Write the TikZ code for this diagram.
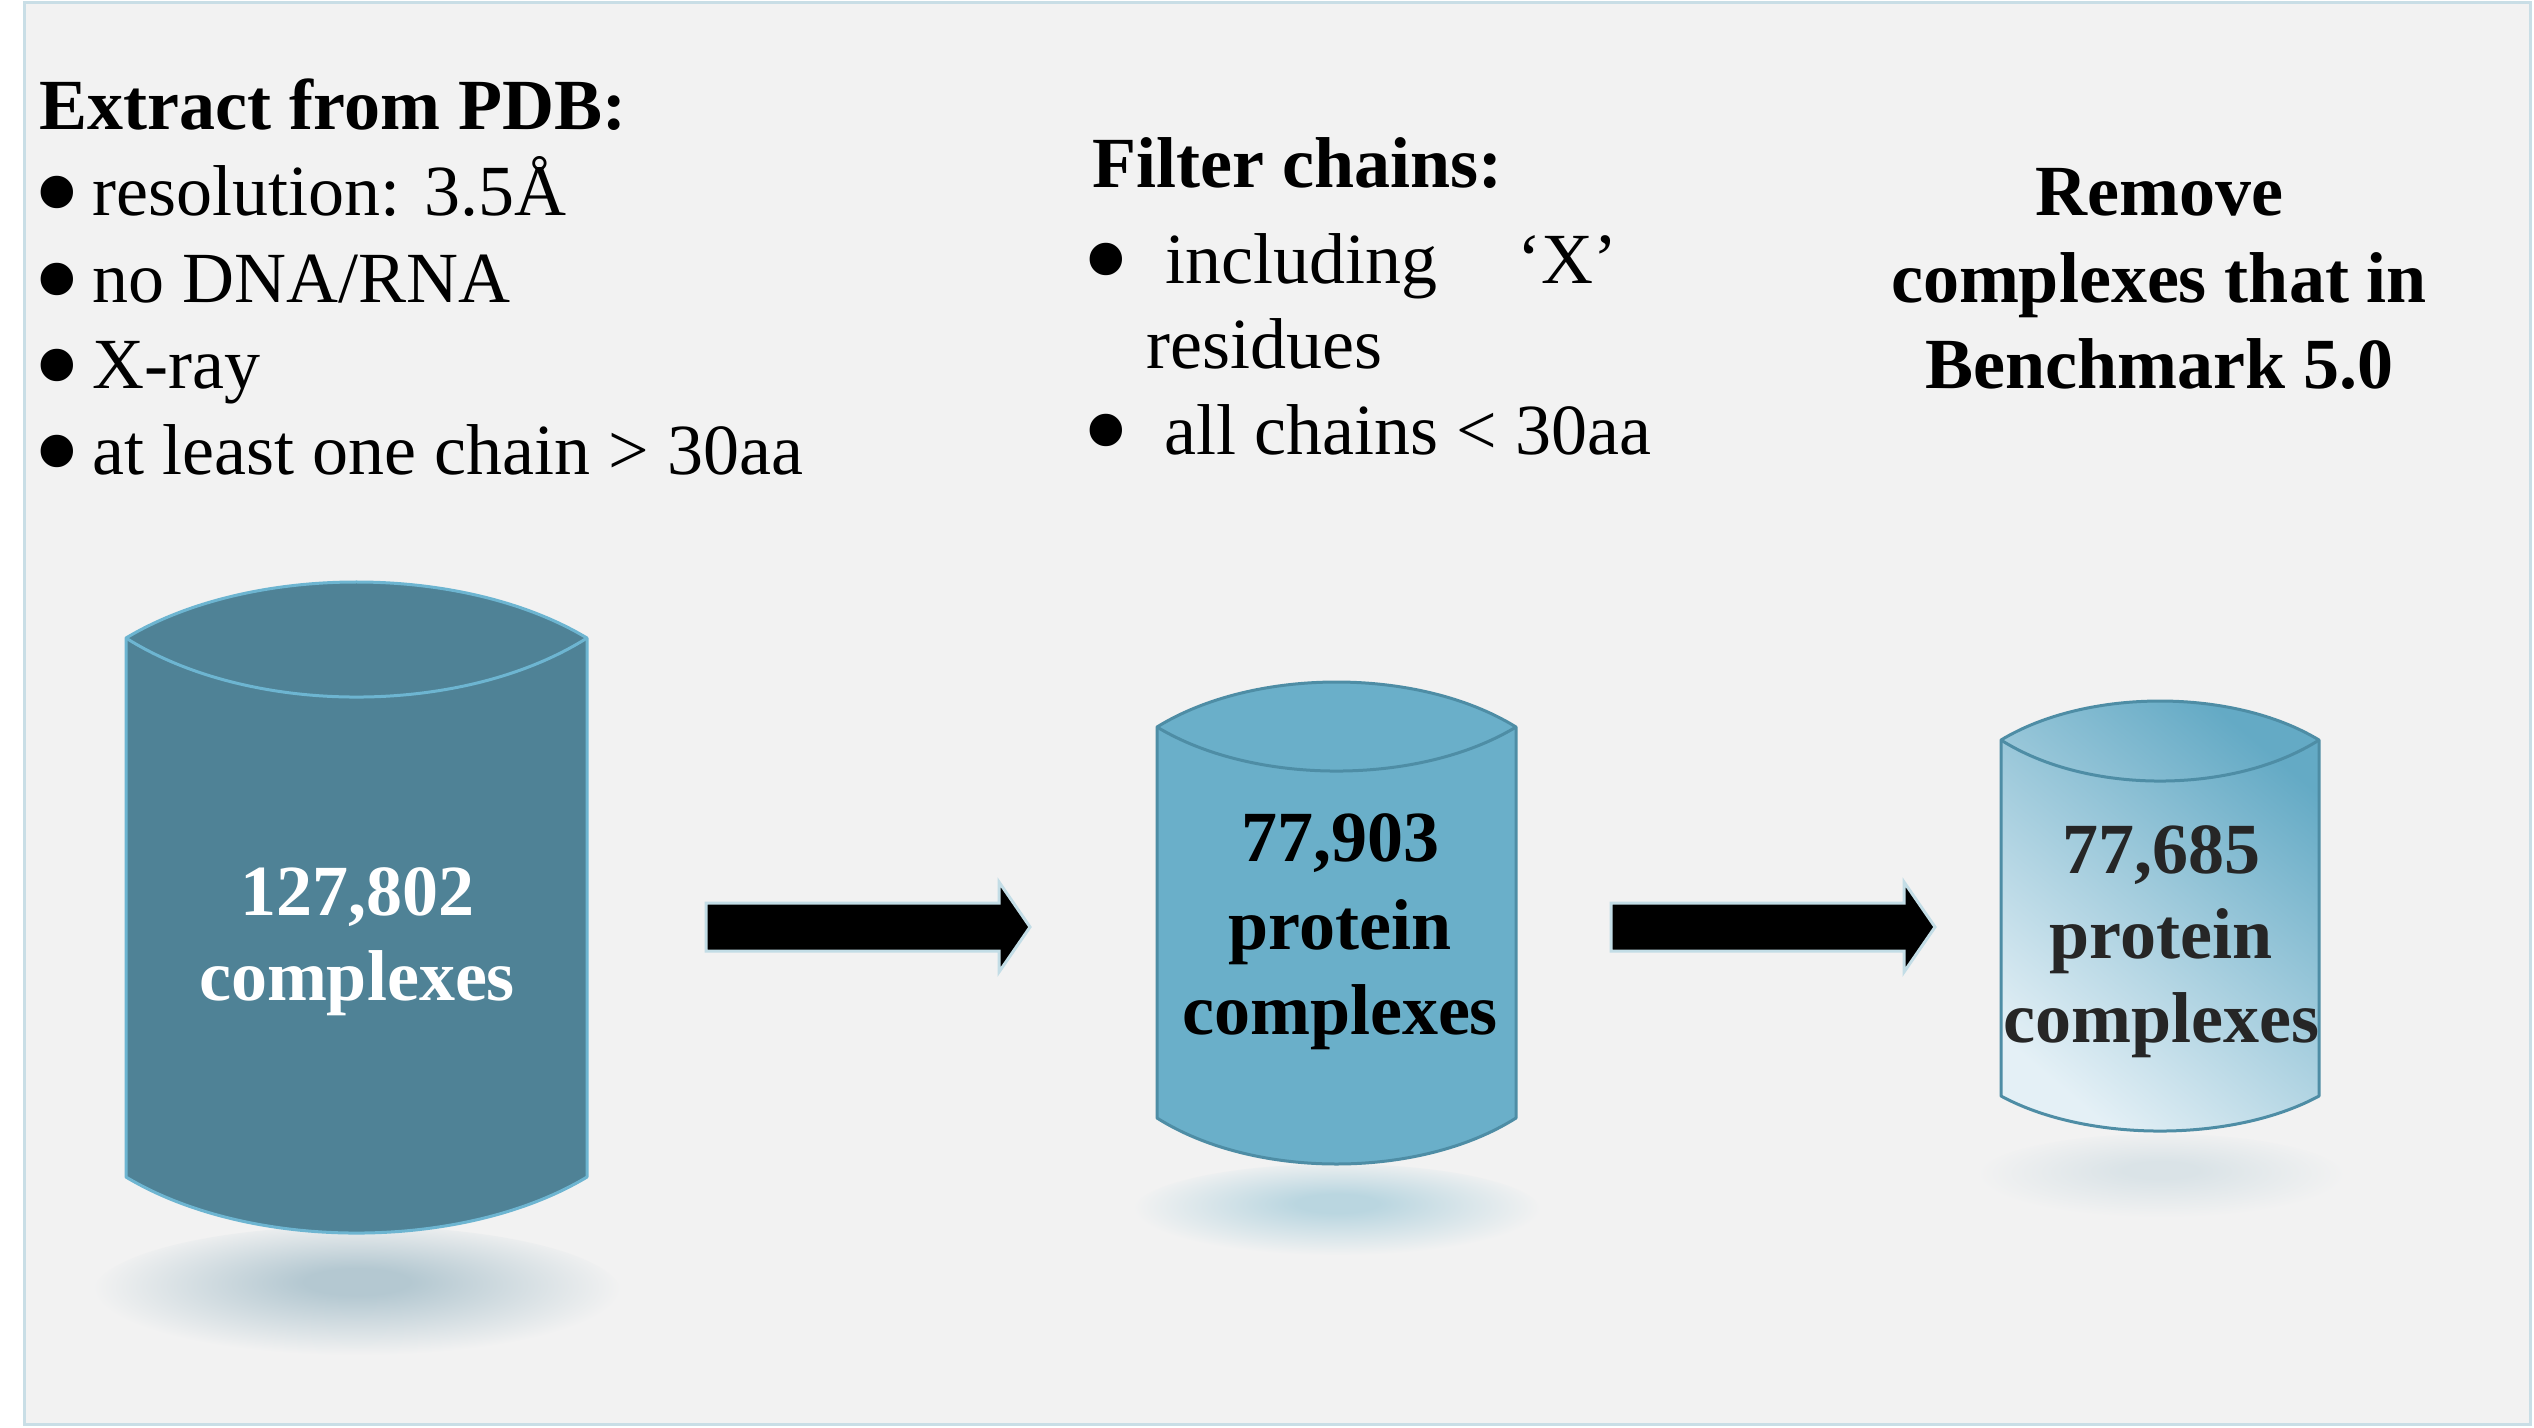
\documentclass[tikz,border=0pt]{standalone}
\usepackage{fontspec}
\setmainfont{Liberation Serif}
\definecolor{bgc}{HTML}{F2F2F2}
\definecolor{framec}{HTML}{C9DEE6}
\definecolor{cylA}{HTML}{4F8296}
\definecolor{cylAline}{HTML}{6DB5D1}
\definecolor{cylB}{HTML}{6AAFC9}
\definecolor{cylBline}{HTML}{4E8DA5}
\definecolor{cylCdark}{HTML}{64AAC5}
\definecolor{cylCmid}{HTML}{93C4D7}
\definecolor{cylClight}{HTML}{E4F0F6}
\definecolor{arrline}{HTML}{C3DDE6}
\definecolor{txtC}{HTML}{262626}
\definecolor{shA}{HTML}{B4C8D1}
\definecolor{shB}{HTML}{BAD6E0}
\definecolor{shC}{HTML}{DAE3E7}
\pgfdeclareradialshading{shadeA}{\pgfpoint{0bp}{5bp}}{color(0bp)=(shA); color(5bp)=(shA); color(25bp)=(bgc); color(50bp)=(bgc)}
\pgfdeclareradialshading{shadeB}{\pgfpoint{0bp}{5bp}}{color(0bp)=(shB); color(5bp)=(shB); color(25bp)=(bgc); color(50bp)=(bgc)}
\pgfdeclareradialshading{shadeC}{\pgfpoint{0bp}{5bp}}{color(0bp)=(shC); color(5bp)=(shC); color(25bp)=(bgc); color(50bp)=(bgc)}
\newcommand{\bulletglyph}{\makebox[0pt][c]{•}}
\tikzset{
  hd/.style={font=\bfseries\fontsize{18}{21.6}\selectfont, inner sep=0pt, anchor=base west},
  tx/.style={font=\fontsize{18}{21.6}\selectfont, inner sep=0pt, anchor=base west},
  bul/.style={font=\fontsize{34}{34}\selectfont, inner sep=0pt, anchor=center},
  ctr/.style={font=\bfseries\fontsize{18}{21.6}\selectfont, inner sep=0pt, anchor=base},
  cylline/.style={line width=0.75pt, line join=round},
  blockarrow/.style={fill=black, draw=arrline, line width=0.75pt, line join=miter},
}
\begin{document}
\begin{tikzpicture}[x=0.25pt, y=-0.25pt]
\useasboundingbox (0,0) rectangle (2534,1427);
\fill[white] (0,0) rectangle (2534,1427);
\filldraw[fill=bgc, draw=framec, line width=0.75pt] (24,2) rectangle (2530,1424);

% shadows
\shade[shading=shadeA] (357,1294) ellipse [x radius=66pt, y radius=17pt];
\shade[shading=shadeB] (1337,1212) ellipse [x radius=51pt, y radius=12pt];
\shade[shading=shadeC] (2161,1178) ellipse [x radius=46pt, y radius=11pt];

% cylinder 1
\filldraw[fill=cylA, draw=cylAline, cylline]
  (126,638) -- (126,1177) .. controls (250.5,1251.7) and (462.5,1251.7) .. (587,1177)
  -- (587,638) .. controls (462.5,563.3) and (250.5,563.3) .. (126,638) -- cycle;
\draw[draw=cylAline, cylline] (126,638) .. controls (250.5,716.7) and (462.5,716.7) .. (587,638);

% cylinder 2
\filldraw[fill=cylB, draw=cylBline, cylline]
  (1157,727) -- (1157,1118) .. controls (1254,1179.3) and (1419,1179.3) .. (1516,1118)
  -- (1516,727) .. controls (1419,667) and (1254,667) .. (1157,727) -- cycle;
\draw[draw=cylBline, cylline] (1157,727) .. controls (1254,785.7) and (1419,785.7) .. (1516,727);

% cylinder 3
\shade[shading=axis, top color=cylCdark, middle color=cylCmid, bottom color=cylClight, shading angle=-40]
  (2001,740) -- (2001,1096) .. controls (2087,1142.7) and (2233,1142.7) .. (2319,1096)
  -- (2319,740) .. controls (2233,688) and (2087,688) .. (2001,740) -- cycle;
\draw[draw=cylBline, cylline]
  (2001,740) -- (2001,1096) .. controls (2087,1142.7) and (2233,1142.7) .. (2319,1096)
  -- (2319,740) .. controls (2233,688) and (2087,688) .. (2001,740) -- cycle;
\draw[draw=cylBline, cylline] (2001,740) .. controls (2087,794.7) and (2233,794.7) .. (2319,740);

% block arrows
\filldraw[blockarrow] (706,903) -- (999,903) -- (999,882) -- (1030,927) -- (999,972) -- (999,951) -- (706,951) -- cycle;
\filldraw[blockarrow] (1611,903) -- (1904,903) -- (1904,882) -- (1935,927) -- (1904,972) -- (1904,951) -- (1611,951) -- cycle;

% left text
\node[hd] (t1) at (39,129) {Extract from PDB:};
\node[bul] (b1) at (57,207) {\bulletglyph};
\node[tx] (l1) at (92,215) {resolution: 3.5Å};
\node[bul] (b2) at (57,294) {\bulletglyph};
\node[tx] (l2) at (92,302) {no DNA/RNA};
\node[bul] (b3) at (57,380) {\bulletglyph};
\node[tx] (l3) at (92,388) {X-ray};
\node[bul] (b4) at (57,466) {\bulletglyph};
\node[tx] (l4) at (92,474) {at least one chain > 30aa};

% middle text
\node[hd] (t2) at (1092,187) {Filter chains:};
\node[bul] (b5) at (1106,274) {\bulletglyph};
\node[tx] (m1) at (1165,283) {including\hspace{20pt}‘X’};
\node[tx] (m2) at (1146,368) {residues};
\node[bul] (b6) at (1106,445) {\bulletglyph};
\node[tx] (m3) at (1164,454) {all chains < 30aa};

% right text
\node[ctr] (r1) at (2159,215) {Remove};
\node[ctr] (r2) at (2159,302) {complexes that in};
\node[ctr] (r3) at (2159,388) {Benchmark 5.0};

% cylinder texts
\node[ctr, text=white] (c1a) at (357,915) {127,802};
\node[ctr, text=white] (c1b) at (357,1000) {complexes};
\node[ctr, text=black] (c2a) at (1340,861) {77,903};
\node[ctr, text=black] (c2b) at (1340,949) {protein};
\node[ctr, text=black] (c2c) at (1340,1034) {complexes};
\node[ctr, text=txtC] (c3a) at (2161,873) {77,685};
\node[ctr, text=txtC] (c3b) at (2161,958) {protein};
\node[ctr, text=txtC] (c3c) at (2161,1042) {complexes};
\end{tikzpicture}
\end{document}
